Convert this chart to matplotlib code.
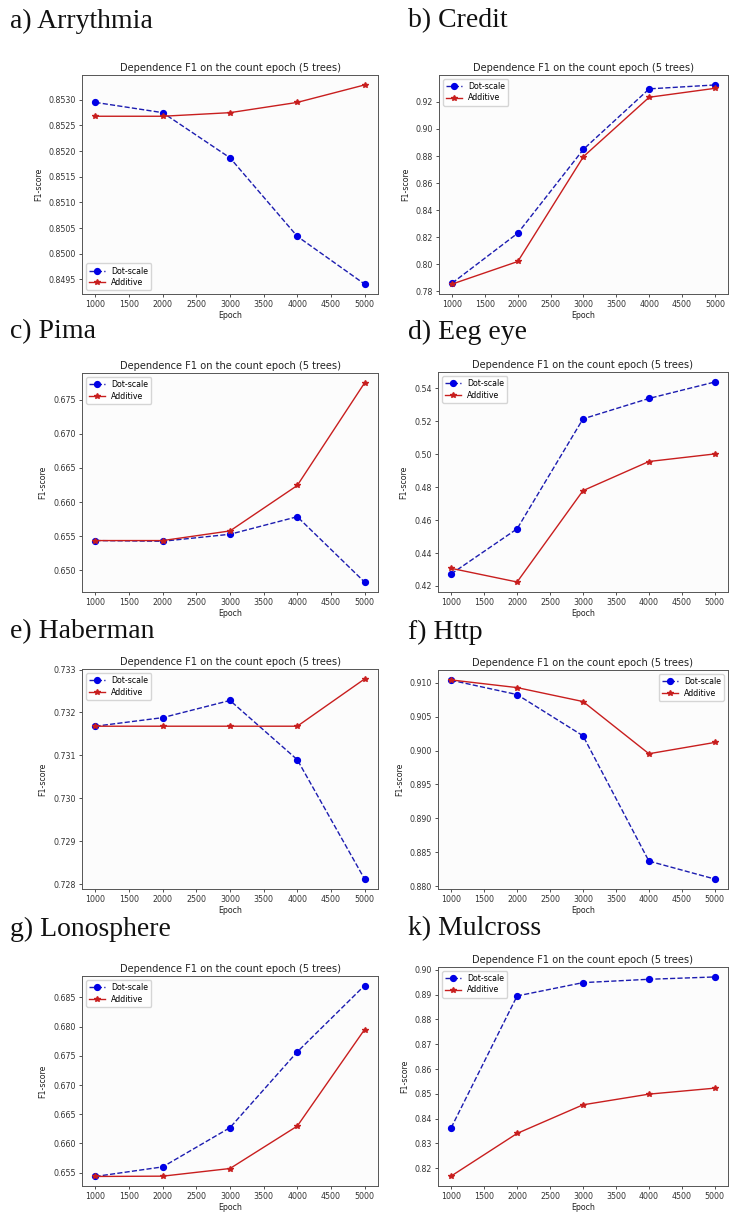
import numpy as np
import matplotlib
matplotlib.use('Agg')
import matplotlib.pyplot as plt

W, H = 731, 1212

epochs = [1000, 2000, 3000, 4000, 5000]

panel_labels = ['a) Arrythmia', 'b) Credit', 'c) Pima', 'd) Eeg eye',
                'e) Haberman', 'f) Http', 'g) Lonosphere', 'k) Mulcross']

# F1-scores
dot_arr = [0.85295, 0.85275, 0.85187, 0.85034, 0.84941]
add_arr = [0.85268, 0.85268, 0.85275, 0.85295, 0.85329]

dot_credit = [0.7859, 0.8229, 0.8850, 0.9297, 0.9326]
add_credit = [0.7852, 0.8019, 0.8796, 0.9235, 0.9301]

dot_pima = [0.65437, 0.65427, 0.65529, 0.65786, 0.6483]
add_pima = [0.65437, 0.65437, 0.65578, 0.66243, 0.67743]

dot_eeg = [0.4273, 0.4547, 0.5215, 0.5339, 0.5439]
add_eeg = [0.4307, 0.4224, 0.4779, 0.4956, 0.5002]

dot_hab = [0.73168, 0.73188, 0.73228, 0.73090, 0.72812]
add_hab = [0.73168, 0.73168, 0.73168, 0.73168, 0.73278]

dot_http = [0.9104, 0.90828, 0.90219, 0.88368, 0.88103]
add_http = [0.91044, 0.90931, 0.90725, 0.89954, 0.90121]

dot_iono = [0.65435, 0.65599, 0.66270, 0.67567, 0.68702]
add_iono = [0.65435, 0.65440, 0.65571, 0.66297, 0.67949]

dot_mul = [0.83627, 0.88951, 0.89489, 0.89624, 0.89718]
add_mul = [0.81677, 0.83398, 0.84554, 0.84985, 0.85227]

dot_all = [dot_arr, dot_credit, dot_pima, dot_eeg, dot_hab, dot_http, dot_iono, dot_mul]
add_all = [add_arr, add_credit, add_pima, add_eeg, add_hab, add_http, add_iono, add_mul]
legend_loc = ['lower left', 'upper left', 'upper left', 'upper left',
              'upper left', 'upper right', 'upper left', 'upper left']

# axes boxes in pixels: left, top, right, bottom
boxes = [(82, 75, 378, 294), (439, 75, 728, 294),
         (82, 373, 378, 592), (438, 372, 728, 592),
         (82, 669, 378, 889), (438, 670, 728, 889),
         (82, 976, 378, 1186), (438, 967, 728, 1186)]
# panel label positions (x, y center) in pixels
label_pos = [(10, 21), (408, 21), (10, 332), (408, 332),
             (10, 632), (408, 632), (10, 929), (408, 929)]

plt.rcParams['font.family'] = 'DejaVu Sans'
fig = plt.figure(figsize=(W / 100, H / 100), dpi=100)

for i in range(8):
    l, t, r, b = boxes[i]
    ax = fig.add_axes([l / W, 1 - b / H, (r - l) / W, (b - t) / H])
    ax.set_facecolor('#fcfcfc')
    ax.plot(epochs, dot_all[i], 'o--', color='#1c1cb0', mfc='#0000e6', mec='#0000e6',
            ms=4.2, lw=1.0, label='Dot-scale')
    ax.plot(epochs, add_all[i], '*-', color='#c81e1e', ms=4.0, lw=1.0, label='Additive')
    ax.set_title('Dependence F1 on the count epoch (5 trees)', fontsize=7.1, pad=3, color='#222222')
    ax.set_xlabel('Epoch', fontsize=5.7, labelpad=1.5, color='#222222')
    ax.set_ylabel('F1-score', fontsize=5.7, labelpad=4, color='#222222')
    ax.set_xticks(np.arange(1000, 5001, 500))
    ax.tick_params(labelsize=5.7, length=2.5, width=0.6, pad=2, colors='#333333')
    for sp in ax.spines.values():
        sp.set_linewidth(0.7)
        sp.set_color('#555555')
    if i == 0:
        ax.yaxis.set_major_formatter(matplotlib.ticker.FormatStrFormatter('%.4f'))
    elif i in (1, 3, 7):
        ax.yaxis.set_major_formatter(matplotlib.ticker.FormatStrFormatter('%.2f'))
    else:
        ax.yaxis.set_major_formatter(matplotlib.ticker.FormatStrFormatter('%.3f'))
    ax.legend(loc=legend_loc[i], fontsize=5.7, handlelength=2, borderpad=0.4,
              labelspacing=0.3, framealpha=0.8, edgecolor='#cccccc')
    fig.text(label_pos[i][0] / W, 1 - label_pos[i][1] / H, panel_labels[i],
             fontsize=20, family='Liberation Serif', va='center', ha='left', color='#111111')

fig.savefig('out.png', dpi=100)
